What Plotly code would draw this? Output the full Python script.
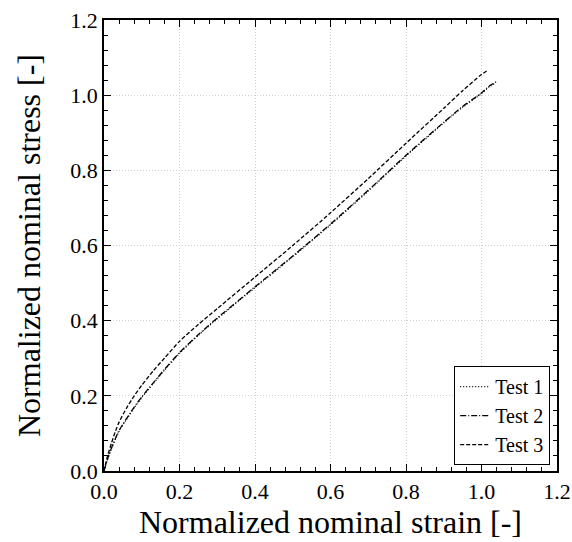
import plotly.graph_objects as go

# ----- DATA
strain_1 = [0, 0.005, 0.01, 0.02, 0.03, 0.04, 0.06, 0.08, 0.10, 0.13, 0.16, 0.20, 0.25, 0.30, 0.40, 0.50, 0.60, 0.70, 0.80, 0.90, 0.95, 1.00, 1.02, 1.035]
stress_1 = [0, 0.017, 0.033, 0.060, 0.084, 0.106, 0.138, 0.168, 0.195, 0.232, 0.268, 0.313, 0.361, 0.405, 0.488, 0.570, 0.655, 0.745, 0.838, 0.926, 0.968, 1.004, 1.022, 1.031]

strain_2 = [0, 0.005, 0.01, 0.02, 0.03, 0.04, 0.06, 0.08, 0.10, 0.13, 0.16, 0.20, 0.25, 0.30, 0.40, 0.50, 0.60, 0.70, 0.80, 0.90, 0.95, 1.00, 1.02, 1.04]
stress_2 = [0, 0.018, 0.034, 0.062, 0.086, 0.108, 0.140, 0.170, 0.197, 0.234, 0.270, 0.315, 0.363, 0.407, 0.490, 0.572, 0.657, 0.747, 0.840, 0.928, 0.970, 1.006, 1.024, 1.036]

strain_3 = [0, 0.005, 0.01, 0.02, 0.03, 0.04, 0.06, 0.08, 0.10, 0.13, 0.16, 0.20, 0.25, 0.30, 0.40, 0.50, 0.60, 0.70, 0.80, 0.90, 0.95, 1.00, 1.018]
stress_3 = [0, 0.022, 0.042, 0.075, 0.105, 0.130, 0.168, 0.200, 0.228, 0.266, 0.300, 0.345, 0.390, 0.432, 0.516, 0.600, 0.687, 0.778, 0.872, 0.965, 1.012, 1.055, 1.067]

labels = ["Test 1", "Test 2", "Test 3"]
# short matplotlib-like dash patterns
dashes = ["1px,2px", "6px,2px,1px,2px", "4px,2px"]

FONT = "Liberation Serif"

fig = go.Figure()
for x, y, name, dash in zip([strain_1, strain_2, strain_3],
                            [stress_1, stress_2, stress_3], labels, dashes):
    fig.add_trace(go.Scatter(x=x, y=y, mode="lines", name=name,
                             line=dict(color="black", width=1.3, dash=dash, shape="spline", smoothing=0.6)))

axis_style = dict(
    range=[0, 1.2],
    dtick=0.2,
    tickformat=".1f",
    ticks="inside",
    ticklen=7,
    tickwidth=1.2,
    tickcolor="black",
    minor=dict(dtick=0.04, ticks="inside", ticklen=4, tickwidth=1, tickcolor="black"),
    mirror="allticks",
    showline=True,
    linecolor="black",
    linewidth=1.8,
    showgrid=True,
    gridcolor="#cfcfcf",
    griddash="1px,2px",
    gridwidth=1,
    zeroline=False,
    automargin=False,
    tickfont=dict(family=FONT, size=22, color="black"),
)

fig.update_xaxes(**axis_style,
                 title=dict(text="Normalized nominal strain [-]",
                            font=dict(family=FONT, size=32, color="black"),
                            standoff=4))
fig.update_yaxes(**axis_style,
                 title=dict(text="Normalized nominal stress [-]",
                            font=dict(family=FONT, size=32, color="black"),
                            standoff=20))

fig.update_layout(
    width=572,
    height=542,
    margin=dict(l=104, r=15, t=20, b=71),
    plot_bgcolor="white",
    paper_bgcolor="white",
    legend=dict(
        x=0.985, y=0.013, xanchor="right", yanchor="bottom",
        bgcolor="white", bordercolor="black", borderwidth=1,
        font=dict(family=FONT, size=20, color="black"),
        tracegroupgap=0,
        itemwidth=30,
    ),
)

# drop the default 8px page margin so the figure sits at the window's corner
fig.write_html("out.html", config={"displayModeBar": False},
               post_script="document.body.style.margin='0';")
